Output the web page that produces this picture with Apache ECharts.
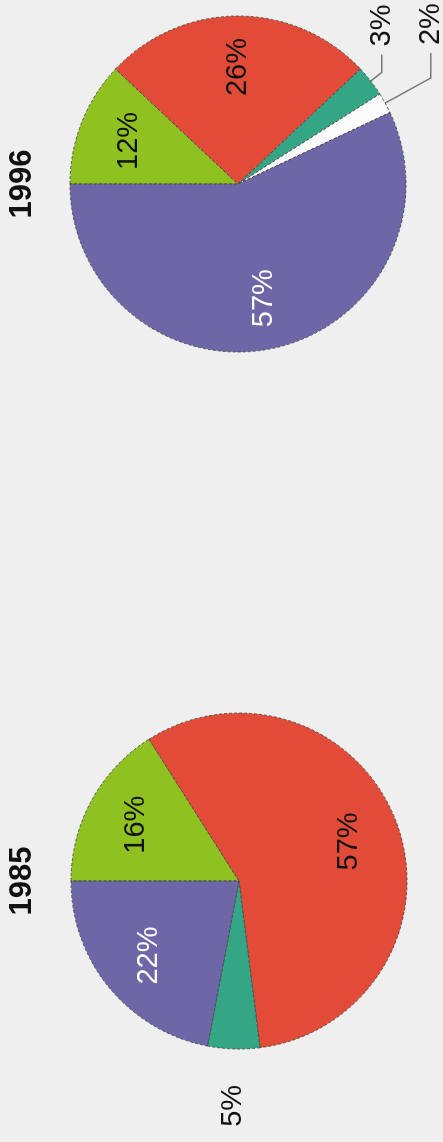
<!DOCTYPE html>
<html>
<head>
<meta charset="utf-8">
<script src="https://cdn.jsdelivr.net/npm/echarts@6/dist/echarts.min.js"></script>
<style>
  html, body { margin: 0; padding: 0; background: #efefef; width: 443px; height: 1142px; overflow: hidden; }
  /* chart is laid out landscape and turned a quarter-turn so it reads bottom-to-top */
  #chart {
    position: absolute; left: 0; top: 0;
    width: 1142px; height: 443px;
    transform-origin: 0 0;
    transform: translateY(1142px) rotate(-90deg);
  }
</style>
</head>
<body>
<div id="chart"></div>
<script>
// ---- data ----
const categories = ['Segment A', 'Segment B', 'Segment C', 'Segment D', 'Segment E'];
const years = ['1985', '1996'];
const values1985 = [16, 57, 5, 0, 22];
const values1996 = [12, 26, 3, 2, 57];

// ---- styling ----
const colors = ['#8fc120', '#e24b38', '#34a585', '#fbfbfb', '#6d67a8'];
const insideLabelColors = ['#111', '#111', '#111', '#111', '#ffffff'];
const FONT = '"Liberation Sans", Arial, sans-serif';
const R = 168;            // pie radius
const LABEL_RING = 228;   // invisible ring whose mid-radius carries the inside labels
const SMALL = 10;         // slices below this get an outside label

const pies = [
  { year: years[0], values: values1985, center: [261, 239],
    lines: { 2: { show: false, length: 10, length2: 18 } } },
  { year: years[1], values: values1996, center: [958, 238],
    lines: { 2: { show: true, length: 14, length2: 18 },
             3: { show: true, length: 52, length2: 25 } } }
];

function mainSeries(p) {
  const data = [];
  p.values.forEach((v, i) => {
    if (v <= 0) return;
    const cfg = p.lines[i];
    const item = { name: categories[i], value: v, itemStyle: { color: colors[i] } };
    if (v < SMALL && cfg) {
      item.label = { show: true, position: 'outside' };
      item.labelLine = { show: cfg.show, length: cfg.length, length2: cfg.length2 };
    } else {
      item.label = { show: false };
      item.labelLine = { show: false };
    }
    data.push(item);
  });
  return {
    type: 'pie', name: p.year, center: p.center, radius: R,
    bottom: -60, startAngle: 90, clockwise: true,
    avoidLabelOverlap: false, silent: true,
    itemStyle: { borderColor: 'rgba(60,60,60,0.8)', borderWidth: 1, borderType: [3, 2] },
    label: {
      formatter: '{c}%', color: '#111', fontSize: 29, fontFamily: FONT,
      distanceToLabelLine: 8
    },
    labelLine: { lineStyle: { color: '#7a7a7a', width: 1.5 }, smooth: false },
    emphasis: { disabled: true },
    data
  };
}

function labelSeries(p) {
  const data = [];
  p.values.forEach((v, i) => {
    if (v <= 0) return;
    data.push({
      name: categories[i], value: v,
      label: { show: v >= SMALL, color: insideLabelColors[i] }
    });
  });
  return {
    type: 'pie', name: p.year + ' labels', center: p.center, radius: [0, LABEL_RING],
    startAngle: 90, clockwise: true, silent: true, z: 3,
    itemStyle: { color: 'rgba(0,0,0,0)', borderWidth: 0 },
    label: { position: 'inside', formatter: '{c}%', fontSize: 29, fontFamily: FONT },
    labelLine: { show: false },
    emphasis: { disabled: true },
    data
  };
}

const chart = echarts.init(document.getElementById('chart'), null, { renderer: 'canvas' });
chart.setOption({
  backgroundColor: '#efefef',
  animation: false,
  title: pies.map(p => ({
    text: p.year, left: p.center[0], top: 7, textAlign: 'center', padding: 0,
    textStyle: { fontSize: 31, fontWeight: 'bold', color: '#111', fontFamily: FONT }
  })),
  series: pies.map(mainSeries).concat(pies.map(labelSeries))
});
</script>
</body>
</html>
